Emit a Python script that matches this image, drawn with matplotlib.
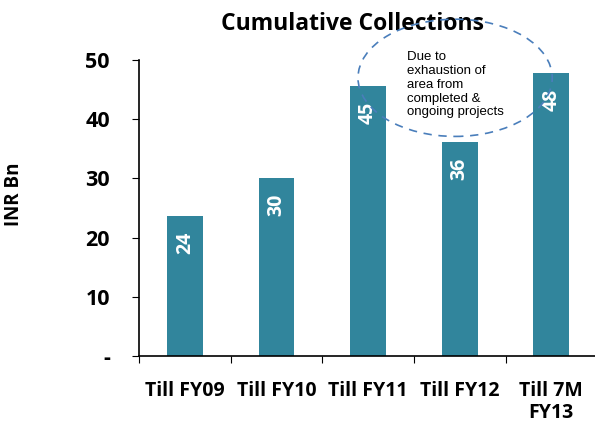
"""Cumulative collections bar chart."""

import matplotlib.pyplot as plt
from matplotlib.patches import Ellipse

periodos = ["Till FY09", "Till FY10", "Till FY11", "Till FY12", "Till 7M\nFY13"]
cobros = [23.6, 30.1, 45.6, 36.1, 47.8]
etiquetas = ["24", "30", "45", "36", "48"]
yticks = [0, 10, 20, 30, 40, 50]
ytick_labels = ["-", "10", "20", "30", "40", "50"]
nota = "Due to\nexhaustion of\narea from\ncompleted &\nongoing projects"

color_barra = "#31859C"
fuente = ["Open Sans", "DejaVu Sans"]

fig = plt.figure(figsize=(5.95, 4.29), dpi=100)
ax = fig.add_axes([0.2336, 0.170, 0.77, 0.690])

x = range(len(periodos))
ax.bar(x, cobros, width=0.39, color=color_barra, zorder=2)

for i, (v, txt) in enumerate(zip(cobros, etiquetas)):
    ax.text(i, v - 2.6, txt, rotation=90, ha="center", va="top", color="white",
            fontsize=14, fontweight="bold", family=fuente)

ax.set_xlim(-0.5, len(periodos) - 0.5)
ax.set_ylim(0, 50)
ax.set_yticks(yticks)
ax.set_yticklabels(ytick_labels, fontsize=15.5, fontweight="bold", family=fuente)
ax.set_xticks([i + 0.5 for i in range(-1, len(periodos))])
ax.set_xticklabels([])
ax.set_xticks(list(x), minor=True)
ax.set_xticklabels(periodos, minor=True, fontsize=14, fontweight="bold",
                   family=fuente, linespacing=1.15)
ax.tick_params(axis="x", which="minor", length=0, pad=18)
ax.tick_params(axis="x", which="major", length=5, direction="out")
ax.tick_params(axis="y", length=5, direction="out", pad=16)

for lado in ("top", "right"):
    ax.spines[lado].set_visible(False)
ax.spines["left"].set_linewidth(1.2)
ax.spines["bottom"].set_linewidth(1.2)

ax.set_ylabel("INR Bn", fontsize=13.5, fontweight="bold", family=fuente)
ax.yaxis.set_label_coords(-0.25, 0.547)

ax.text(0.593, 0.930, "Cumulative Collections", transform=fig.transFigure,
        ha="center", va="baseline", fontsize=16.5, fontweight="bold",
        family=fuente, zorder=2)

elipse = Ellipse((2.95, 47.0), 2.12, 19.8, fill=False, edgecolor="#4A7EBB",
                 linestyle=(0, (5, 4)), linewidth=1.2, clip_on=False, zorder=3)
ax.add_patch(elipse)
ax.text(2.42, 51.5, nota, ha="left", va="top", fontsize=9.5,
        family="Liberation Sans", linespacing=1.2, zorder=4)

fig.savefig("out.png", dpi=100)
